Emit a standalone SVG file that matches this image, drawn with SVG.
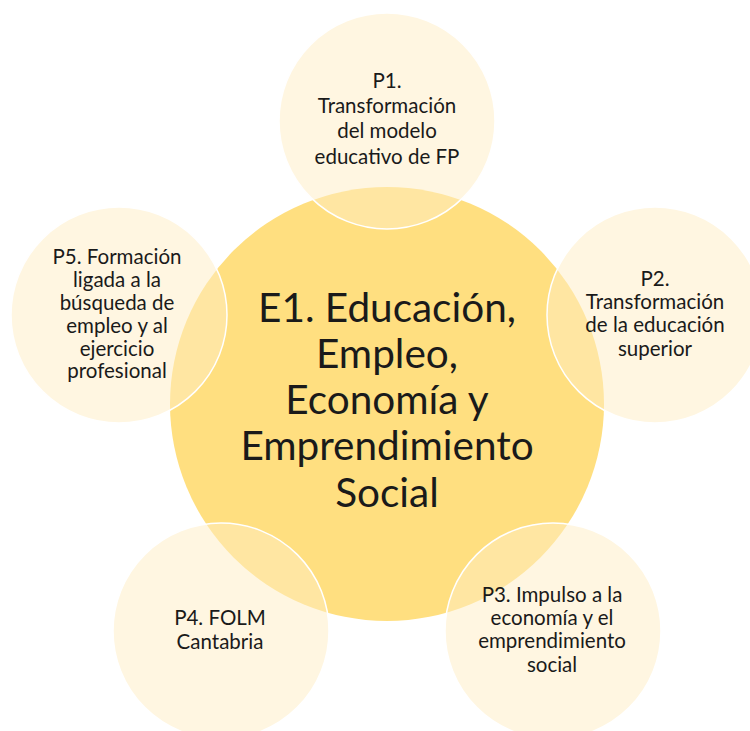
<svg xmlns="http://www.w3.org/2000/svg" width="750" height="731" viewBox="0 0 750 731">
<style>
.core{fill:#FFDF80;}
.sat{fill:#FFEDC3;fill-opacity:0.5;stroke:#FFFFFF;stroke-width:1.5;}
.t{font-family:Lato,"Open Sans","Liberation Sans",sans-serif;fill:#1A1A1A;text-anchor:middle;}
.s{font-size:20.5px;}
.c{font-size:40.5px;}
</style>
<rect width="750" height="731" fill="#FFFFFF"/>
<g id="E1">
<circle class="core" cx="387" cy="404" r="217"/>
<text class="t c"><tspan x="387" y="322">E1. Educación,</tspan><tspan x="387" y="368">Empleo,</tspan><tspan x="387" y="414">Economía y</tspan><tspan x="387" y="460">Emprendimiento</tspan><tspan x="387" y="507">Social</tspan></text>
</g>
<g id="P1">
<circle class="sat" cx="387" cy="121" r="108"/>
<text class="t s"><tspan x="387" y="88">P1.</tspan><tspan x="387" y="113">Transformación</tspan><tspan x="387" y="138">del modelo</tspan><tspan x="387" y="164">educativo de FP</tspan></text>
</g>
<g id="P2">
<circle class="sat" cx="655" cy="315" r="108"/>
<text class="t s"><tspan x="655" y="286">P2.</tspan><tspan x="655" y="309">Transformación</tspan><tspan x="655" y="332">de la educación</tspan><tspan x="655" y="356">superior</tspan></text>
</g>
<g id="P3">
<circle class="sat" cx="553" cy="631" r="108"/>
<text class="t s"><tspan x="552" y="602">P3. Impulso a la</tspan><tspan x="552" y="625">economía y el</tspan><tspan x="552" y="648">emprendimiento</tspan><tspan x="552" y="672">social</tspan></text>
</g>
<g id="P4">
<circle class="sat" cx="221" cy="631" r="108"/>
<text class="t s"><tspan x="220" y="625">P4. FOLM</tspan><tspan x="220" y="649">Cantabria</tspan></text>
</g>
<g id="P5">
<circle class="sat" cx="119" cy="315" r="108"/>
<text class="t s"><tspan x="117" y="264">P5. Formación</tspan><tspan x="117" y="287">ligada a la</tspan><tspan x="117" y="310">búsqueda  de</tspan><tspan x="117" y="333">empleo y al</tspan><tspan x="117" y="356">ejercicio</tspan><tspan x="117" y="378">profesional</tspan></text>
</g>
<g id="connectors"/>
</svg>
